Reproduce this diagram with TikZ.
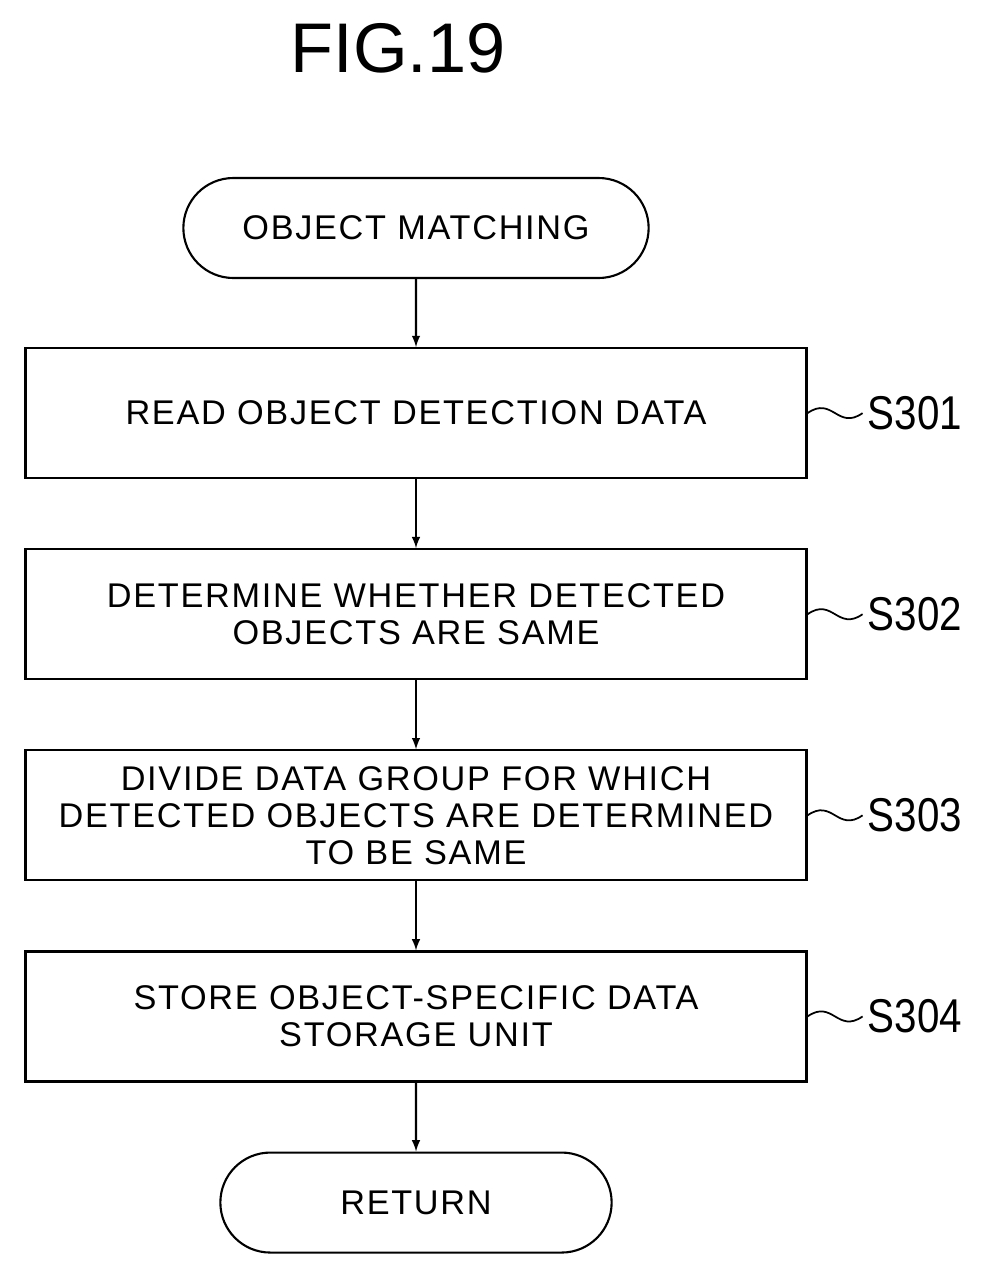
\documentclass[tikz,border=0pt]{standalone}
\usepackage{fontspec}
\setmainfont{Liberation Sans}[LetterSpace=5]
\usetikzlibrary{positioning,shapes.misc}
\tikzset{
% step boxes and start/end terminals
step box/.style={draw,line width=1.2pt,minimum width=15.62cm,minimum height=2.6cm,align=center,font=\fontsize{19.5}{21}\selectfont,inner sep=0pt},
term node/.style={draw,line width=1.2pt,rounded rectangle,minimum height=2cm,font=\fontsize{19.5}{21}\selectfont},
step label/.style={font=\fontsize{27}{30}\selectfont\addfontfeature{LetterSpace=0},xscale=0.85,right=1.1cm of #1},
flow/.style={-latex,line width=1.2pt}
}
\begin{document}
\begin{tikzpicture}
  \useasboundingbox (0,0) rectangle (19.76,-25.48);
  % title
  \node(title) at (7.96,-0.96) {\fontsize{40}{44}\selectfont\addfontfeature{LetterSpace=0}FIG.19};
  % the chart
  \node(start)[term node,minimum width=9.54cm] at (8.32,-4.56) {OBJECT MATCHING};
  \node(b1)[step box,below=1.36cm of start] {READ OBJECT DETECTION DATA};
  \node(b2)[step box,below=1.38cm of b1] {DETERMINE WHETHER DETECTED\\OBJECTS ARE SAME};
  \node(b3)[step box,below=1.38cm of b2] {DIVIDE DATA GROUP FOR WHICH\\DETECTED OBJECTS ARE DETERMINED\\TO BE SAME};
  \node(b4)[step box,below=1.38cm of b3] {STORE OBJECT-SPECIFIC DATA\\STORAGE UNIT};
  \node(end)[term node,minimum width=8.06cm,below=1.38cm of b4] {RETURN};
  \draw[flow] (start) -- (b1);
  \draw[flow] (b1) -- (b2);
  \draw[flow] (b2) -- (b3);
  \draw[flow] (b3) -- (b4);
  \draw[flow] (b4) -- (end);
  % step numbers
  \foreach \b/\s in {b1/S301,b2/S302,b3/S303,b4/S304}{
    \node(\s)[step label=\b] {\s};
    \draw[line width=1pt] (\b.east) .. controls +(0.5,0.35) and +(-0.5,-0.35) .. (\s.west);
  }
\end{tikzpicture}
\end{document}
